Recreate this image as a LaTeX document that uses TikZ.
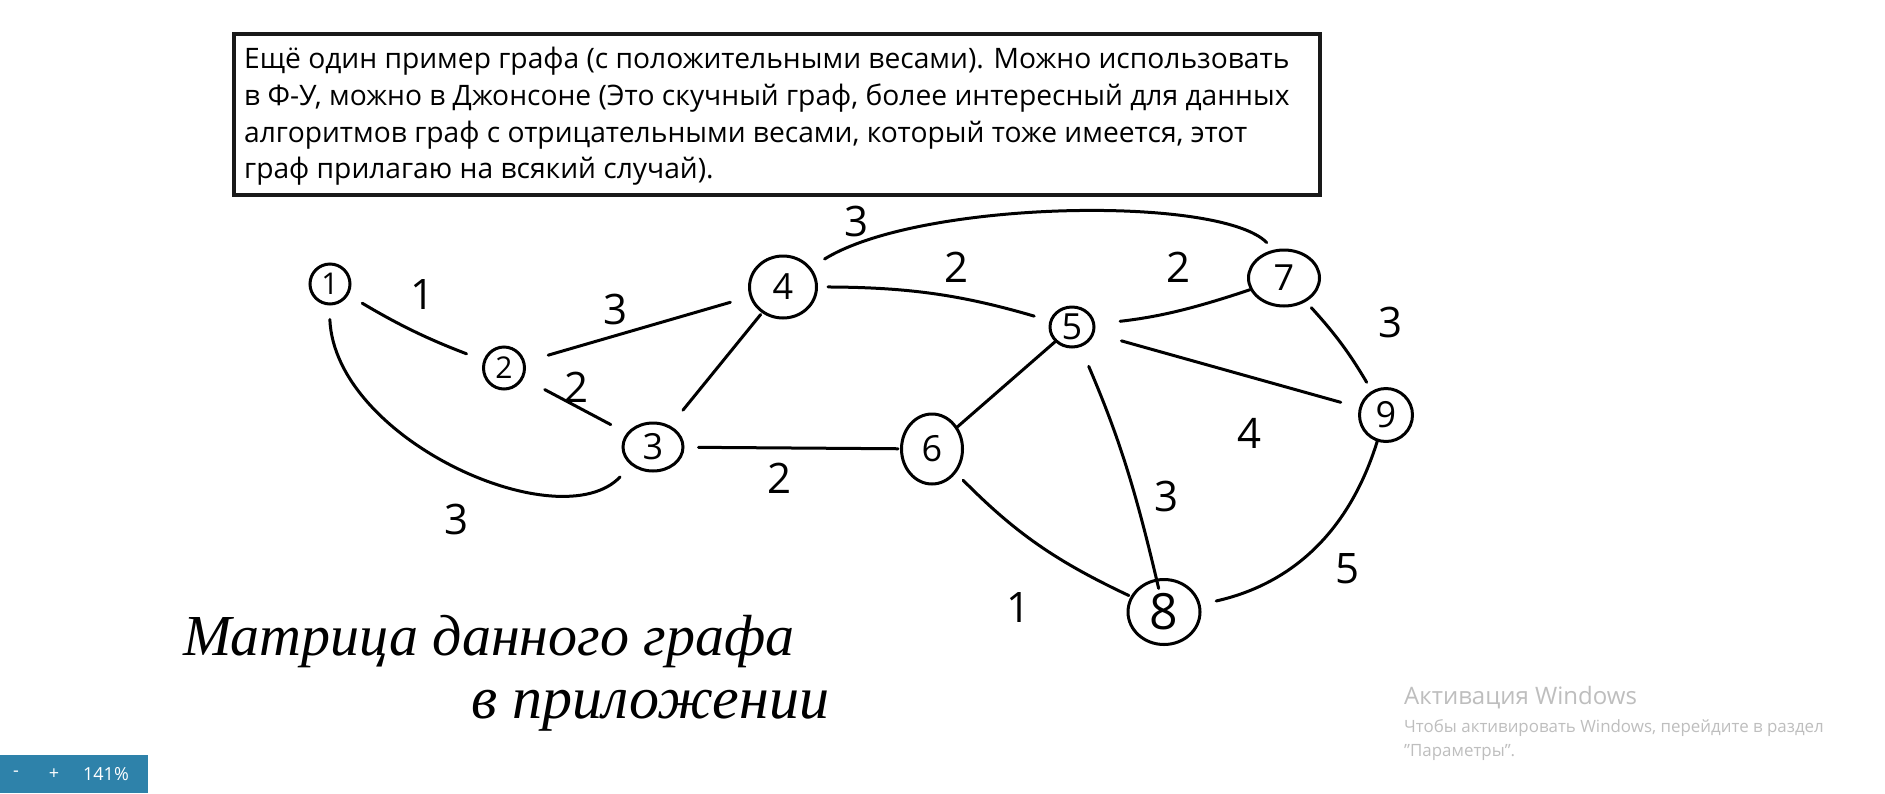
\documentclass[tikz,border=0pt]{standalone}
\usepackage{fontspec}
\setmainfont{Open Sans}
\newfontfamily\handfont{Liberation Serif}
\usetikzlibrary{shapes.geometric}
\definecolor{wmgray}{RGB}{190,190,190}
\definecolor{zoombar}{RGB}{46,130,170}
\begin{document}
\begin{tikzpicture}[x=1pt,y=-1pt,
  vtx/.style={draw, ellipse, line width=3pt, inner sep=0pt, font=\fontsize{36}{36}\selectfont},
  edge/.style={line width=3pt, line cap=round},
  wlab/.style={font=\fontsize{42}{42}\selectfont},
  boxline/.style={anchor=base west, inner sep=0pt, font=\fontsize{28.2}{36}\selectfont},
  hand/.style={anchor=base west, inner sep=0pt, font=\handfont\itshape\fontsize{58}{58}\selectfont},
  wm/.style={anchor=base west, inner sep=0pt, text=wmgray},
  zb/.style={text=white, inner sep=0pt, font=\fontsize{18}{18}\selectfont}]
\useasboundingbox[fill=white] (0,0) rectangle (1885,793);

% text box
\draw[line width=3.5pt, black!90] (234,34) rectangle (1320,195);
\node[boxline] (t1) at (244,68) {Ещё один пример графа (с положительными весами). Можно использовать};
\node[boxline] (t2) at (244,105) {в Ф-У, можно в Джонсоне (Это скучный граф, более интересный для данных};
\node[boxline] (t3) at (244,142) {алгоритмов граф с отрицательными весами, который тоже имеется, этот};
\node[boxline] (t4) at (244,178) {граф прилагаю на всякий случай).};

% vertices
\node[vtx, minimum width=40pt, minimum height=40pt, font=\fontsize{30}{30}\selectfont] (n1) at (330,284) {1};
\node[vtx, minimum width=41pt, minimum height=42pt, font=\fontsize{30}{30}\selectfont] (n2) at (504,368) {2};
\node[vtx, minimum width=60pt, minimum height=48pt] (n3) at (653,447) {3};
\node[vtx, minimum width=67pt, minimum height=62pt] (n4) at (783,287) {4};
\node[vtx, minimum width=44pt, minimum height=40pt] (n5) at (1072,327) {5};
\node[vtx, minimum width=61pt, minimum height=70pt] (n6) at (932,449) {6};
\node[vtx, minimum width=71pt, minimum height=56pt] (n7) at (1284,278) {7};
\node[vtx, minimum width=72pt, minimum height=65pt, font=\fontsize{50}{50}\selectfont] (n8) at (1164,612) {8};
\node[vtx, minimum width=53pt, minimum height=53pt] (n9) at (1386,415) {9};

% edges
\draw[edge, shorten <=16pt, shorten >=18pt] (n1) to[bend right=5] (n2);
\draw[edge, shorten <=24pt, shorten >=20pt] (n2) -- (n4);
\draw[edge, shorten <=24pt, shorten >=18pt] (n2) -- (n3);
\draw[edge, shorten <=14pt, shorten >=16pt] (n1.-92) .. controls (335,440) and (560,540) .. (n3.-140);
\draw[edge, shorten <=20pt, shorten >=2pt] (n3) -- (n4);
\draw[edge, shorten <=14pt, shorten >=2pt] (n3) -- (n6);
\draw[edge, shorten <=10pt, shorten >=16pt] (n4) to[bend left=8] (n5);
\draw[edge, shorten <=16pt, shorten >=10pt] (n4.35) .. controls (920,200) and (1220,195) .. (n7.110);
\draw[edge] (n5) -- (n6);
\draw[edge, shorten <=25pt] (n5) to[bend right=6] (n7);
\draw[edge, shorten <=28pt, shorten >=19pt] (n5) -- (n9);
\draw[edge, shorten <=21pt, shorten >=-10pt] (n5) to[bend left=5] (n8);
\draw[edge, shorten <=10pt, shorten >=2pt] (n6) to[bend right=10] (n8);
\draw[edge, shorten <=8pt, shorten >=10pt] (n7) to[bend left=6] (n9);
\draw[edge, shorten <=16pt] (n8) to[bend right=30] (n9);

% weights
\node[wlab] (w12) at (423,295) {1};
\node[wlab] (w24) at (616,309) {3};
\node[wlab] (w23) at (577,387) {2};
\node[wlab] (w13) at (457,519) {3};
\node[wlab] (w36) at (779,478) {2};
\node[wlab] (w45) at (956,267) {2};
\node[wlab] (w47) at (856,221) {3};
\node[wlab] (w57) at (1178,267) {2};
\node[wlab] (w59) at (1249,433) {4};
\node[wlab] (w58) at (1166,496) {3};
\node[wlab] (w68) at (1018,607) {1};
\node[wlab] (w79) at (1390,322) {3};
\node[wlab] (w89) at (1347,569) {5};

% handwritten note
\node[hand] (h1) at (183,655) {Матрица данного графа};
\node[hand, font=\handfont\itshape\fontsize{60}{60}\selectfont] (h2) at (471,718) {в приложении};

% watermark
\node[wm, font=\fontsize{24}{24}\selectfont] (wm1) at (1404,704) {Активация Windows};
\node[wm, font=\fontsize{16.9}{16.9}\selectfont] (wm2) at (1404,732) {Чтобы активировать Windows, перейдите в раздел};
\node[wm, font=\fontsize{16.9}{16.9}\selectfont] (wm3) at (1404,756) {"Параметры".};

% zoom bar
\fill[zoombar] (0,755) rectangle (148,793);
\node[zb] (zm) at (16,774) {-};
\node[zb] (zp) at (54,774) {+};
\node[zb] (zz) at (106,774) {141\%};
\end{tikzpicture}
\end{document}
